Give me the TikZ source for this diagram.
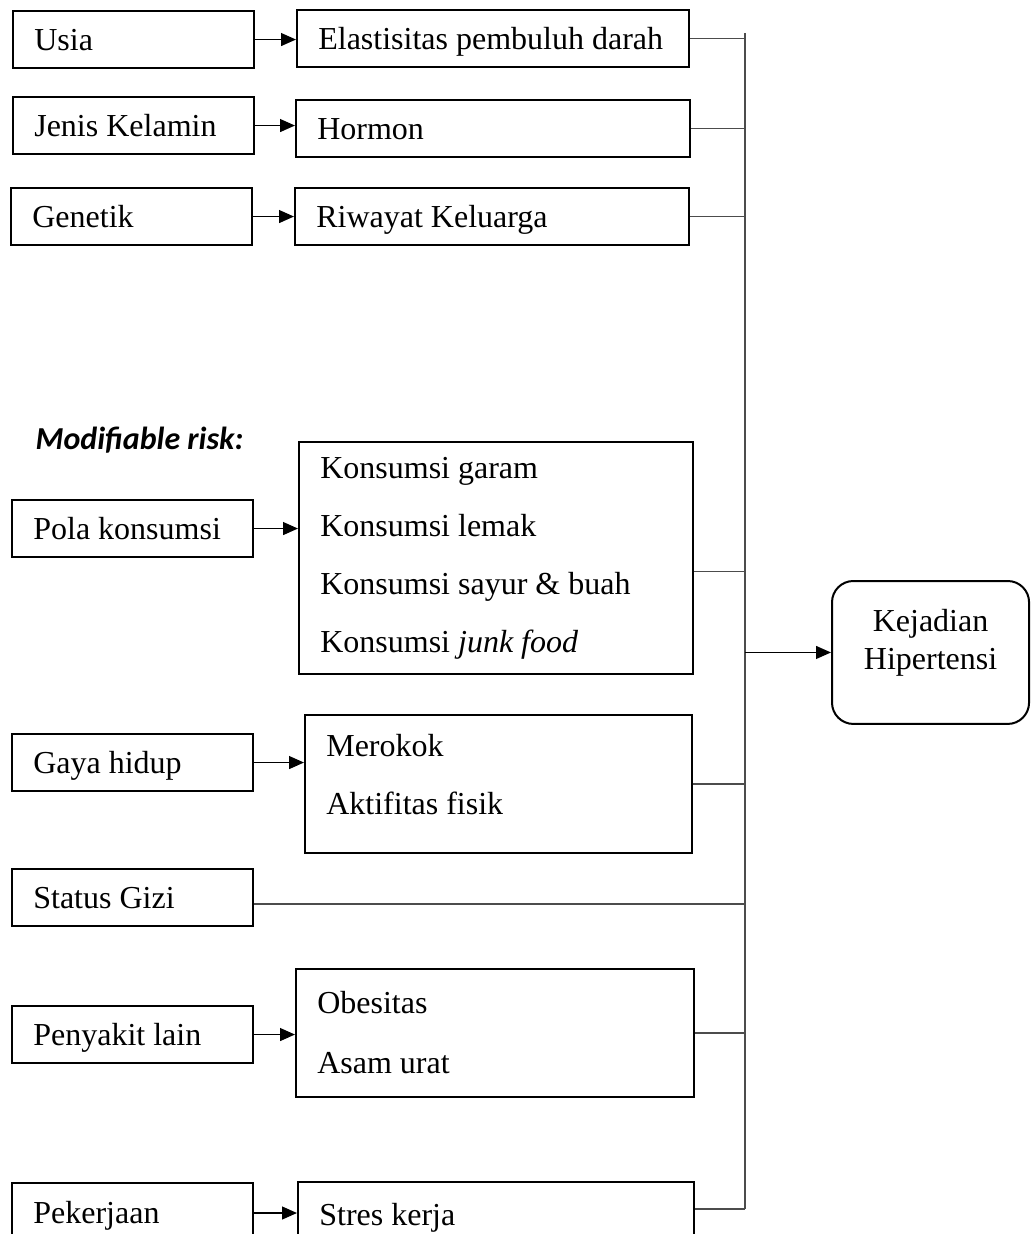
\documentclass[tikz,border=0pt]{standalone}
\usepackage{fontspec}
\setmainfont{Liberation Serif}
\newfontfamily\risikofont{Carlito}
\usetikzlibrary{arrows.meta,positioning,calc}

\begin{document}
\begin{tikzpicture}[x=0.375pt,y=-0.375pt,
   font=\fontsize{12}{14.5}\selectfont,
   kotak/.style={draw,line width=0.75pt,anchor=north west,align=flush left,
                 inner xsep=8pt,inner ysep=0pt},
   kiri/.style={kotak,text width=74.4pt,minimum height=21.4pt,
                text height=9.2pt,text depth=1pt},
   kanan/.style={kotak,text width=131.75pt,minimum height=21.2pt,
                 text height=9.2pt,text depth=1pt},
   daftar/.style={kotak,text width=131.75pt},
   hasil/.style={draw,line width=0.75pt,rounded corners=8pt,anchor=north west,
                 align=center,minimum width=73.9pt,minimum height=53.6pt},
   panah/.style={line width=0.65pt,-{Triangle[length=5.6pt,width=4.8pt]}},
   garis/.style={line width=0.55pt,draw=black!70}]
  \clip (0,0) rectangle (1030,1234);

  % faktor yang tidak dapat diubah
  \node[kiri] (usia) at (12,10) {Usia};
  \node[kanan,text width=131pt] (elas) at (296,9) {Elastisitas pembuluh darah};
  \node[kiri] (jk) at (12,96) {Jenis Kelamin};
  \node[kanan] (hormon) at (295,99) {Hormon};
  \node[kiri] (gen) at (10,187) {Genetik};
  \node[kanan] (riw) at (294,187) {Riwayat Keluarga};

  % faktor yang dapat diubah
  \node[anchor=west,inner sep=0pt,
        font=\risikofont\bfseries\itshape\fontsize{12}{14.5}\selectfont]
        (modif) at (35,440) {Modifiable risk:};
  \node[kiri] (pola) at (11,499) {Pola konsumsi};
  \node[daftar,minimum height=87pt] (kons) at (298,441)
        {Konsumsi garam\\[7.25pt]Konsumsi lemak\\[7.25pt]Konsumsi sayur \& buah\\[7.25pt]Konsumsi \textit{junk food}};
  \node[kiri] (gaya) at (11,733) {Gaya hidup};
  \node[daftar,text width=129pt,minimum height=51.75pt] (rokok) at (304,714)
        {Merokok\\[7.25pt]Aktifitas fisik\\[-7pt]\mbox{}};
  \node[kiri] (gizi) at (11,868) {Status Gizi};
  \node[kiri] (penyakit) at (11,1005) {Penyakit lain};
  \node[daftar,text width=133.25pt,minimum height=48pt] (obes) at (295,968)
        {Obesitas\\[8pt]Asam urat};
  \node[kiri,minimum height=22.5pt] (kerja) at (11,1182) {Pekerjaan};
  \node[kanan,text width=132.5pt,minimum height=20.25pt,
        text height=12pt,text depth=0pt] (stres) at (297,1181) {Stres kerja};

  % hasil
  \node[hasil] (hiper) at (831,580) {Kejadian\\Hipertensi\\[-4.7pt]\mbox{}};

  % garis pengumpul
  \coordinate (atas) at (745,33);
  \draw[garis] (atas) -- (stres.east -| atas);
  \foreach \k in {elas,hormon,riw,rokok,obes,stres}
    \draw[garis] (\k.east) -- (\k.east -| atas);
  \draw[garis] ([yshift=-5pt]kons.east) -- ([yshift=-5pt]kons.east -| atas);
  \draw[garis] ([yshift=-2.4pt]gizi.east) -- ([yshift=-2.4pt]gizi.east -| atas);

  % panah
  \foreach \a/\b in {usia/elas,jk/hormon,gen/riw,pola/kons,gaya/rokok,penyakit/obes,kerja/stres}
    \draw[panah] (\a.east) -- (\a.east -| \b.west);
  \draw[panah] (hiper.west -| atas) -- (hiper.west);
\end{tikzpicture}
\end{document}
